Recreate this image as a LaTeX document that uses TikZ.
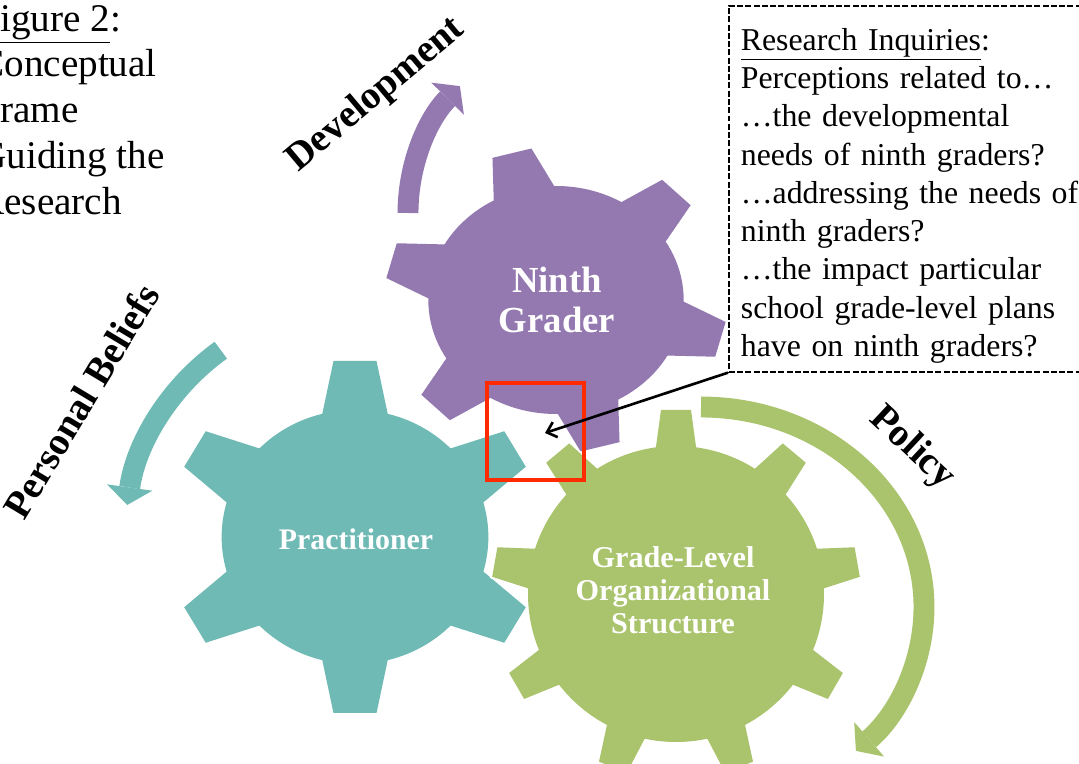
\documentclass[tikz,border=0pt]{standalone}
\usepackage{fontspec}
\setmainfont{Liberation Serif}
\usepackage{tikz}
\usetikzlibrary{arrows.meta,calc}

\definecolor{gearpurple}{HTML}{9479B0}
\definecolor{gearteal}{HTML}{6FBAB5}
\definecolor{geargreen}{HTML}{AAC46D}
\definecolor{markred}{HTML}{FF2A00}

% centre, xscale, tooth angles, body radius, tip radius, half base, half tip, style
\newcommand{\gearshape}[8]{%
	\path[#8,shift={#1},xscale=#2] (0,0) circle (#4);
	\foreach \a in {#3}
		\path[#8,shift={#1},xscale=#2,rotate=\a] (#4-8,-#6) -- (#5,-#7) -- (#5,#7) -- (#4-8,#6) -- cycle;
}

\begin{document}
\begin{tikzpicture}[x=0.02cm,y=0.02cm,
	halo/.style={fill=white,draw=white,line width=2.2pt},
	band/.style={draw=#1,line width=11.9pt,-{Triangle[length=10pt,width=26pt,line width=0pt]}},
	gearlabel/.style={text=white,align=center,inner sep=0pt},
	turnlabel/.style={font=\bfseries\fontsize{22.2}{26}\selectfont,inner sep=0pt}]
	\useasboundingbox (0,0) rectangle (1079,764);
	\fill[white] (0,0) rectangle (1079,764);

	\gearshape{(556,464)}{1.12}{45,105,...,345}{114}{152}{29}{18}{halo}
	\gearshape{(556,464)}{1.12}{45,105,...,345}{114}{152}{29}{18}{fill=gearpurple}
	\gearshape{(355,227)}{1.05}{30,90,...,330}{127}{176}{32}{20.5}{halo}
	\gearshape{(355,227)}{1.05}{30,90,...,330}{127}{176}{32}{20.5}{fill=gearteal}
	\gearshape{(676,170)}{1}{10,50,...,330}{148}{184}{21}{15}{halo}
	\gearshape{(676,170)}{1}{10,50,...,330}{148}{184}{21}{15}{fill=geargreen}

	\draw[band=gearpurple] (408,551) arc[start angle=180,end angle=135.5,radius=181];
	\draw[band=gearteal] (220.8,413.8) arc[start angle=125.7,end angle=172,radius=230];
	\draw[band=geargreen] (701,357) arc[start angle=90,end angle=-46,x radius=223,y radius=200];

	\node[gearlabel,font=\bfseries\fontsize{20.9}{22.7}\selectfont] (ninth) at (557,464) {Ninth\\Grader};
	\node[gearlabel,font=\bfseries\fontsize{17}{19}\selectfont] (practitioner) at (356,225) {Practitioner};
	\node[gearlabel,font=\bfseries\fontsize{17.2}{18.9}\selectfont] (structure) at (673,174) {Grade-Level\\Organizational\\Structure};

	\node[turnlabel,rotate=40] (development) at (376,669) {Development};
	\node[turnlabel,rotate=59] (beliefs) at (81,363) {Personal Beliefs};
	\node[turnlabel,rotate=-43] (policy) at (912,316) {Policy};

	\node[anchor=north west,align=left,inner sep=0pt,font=\fontsize{22.3}{26}\selectfont] (caption) at (-22,759)
		{\underline{Figure 2}:\\Conceptual\\Frame\\Guiding the\\Research};

	\node[draw,line width=1pt,dash pattern=on 3.4pt off 1.3pt,anchor=north west,align=left,
		text width=7.4cm,minimum height=7.32cm,inner xsep=0.24cm,inner ysep=0pt,
		font=\fontsize{18.1}{21.8}\selectfont] (inquiries) at (728,759)
		{\rule{0pt}{20.4pt}\underline{Research Inquiries}:\\Perceptions related to…\\…the developmental\\needs of ninth graders?\\…addressing the needs of\\ninth graders?\\…the impact particular\\school grade-level plans\\have on ninth graders?};

	\draw[markred,line width=2pt] (487,381) rectangle (584,284);
	\coordinate (gap) at (545,331);
	\draw[line width=1.5pt,-{Straight Barb[length=5pt,width=9pt]}] (inquiries.south west) -- (gap);
\end{tikzpicture}
\end{document}
